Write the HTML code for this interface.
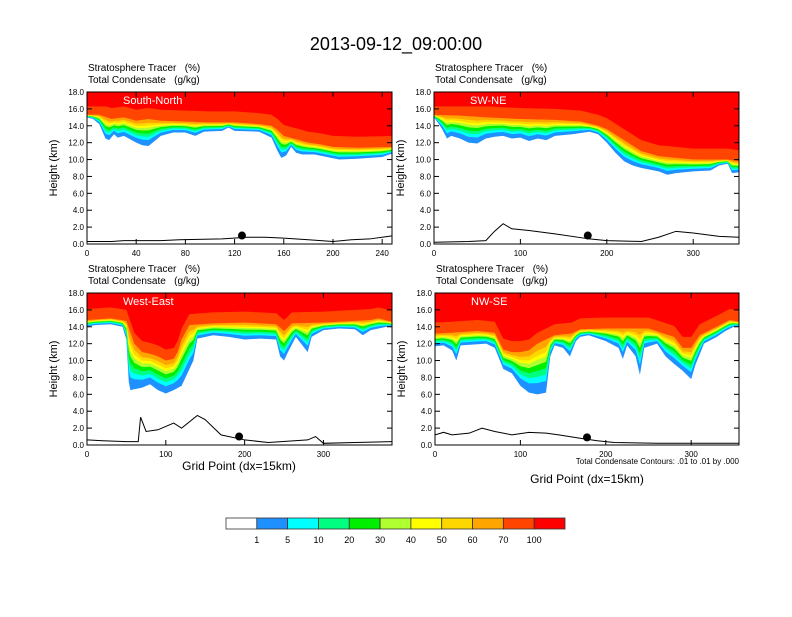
<!DOCTYPE html>
<html><head><meta charset="utf-8">
<style>
body{margin:0;background:#fff;width:792px;height:612px;overflow:hidden;font-family:"Liberation Sans",sans-serif}
svg text{font-family:"Liberation Sans",sans-serif;white-space:pre}
</style></head>
<body>
<svg id="fig" width="792" height="612" viewBox="0 0 792 612" xmlns="http://www.w3.org/2000/svg">
<rect width="792" height="612" fill="#fff"/>
<text x="396" y="50" font-size="18" text-anchor="middle">2013-09-12_09:00:00</text>
<g id="panels"></g>
<text x="239" y="470" font-size="12" text-anchor="middle">Grid Point (dx=15km)</text>
<text x="587" y="483" font-size="12" text-anchor="middle">Grid Point (dx=15km)</text>
<text x="739" y="464" font-size="8" text-anchor="end">Total Condensate Contours: .01 to .01 by .000</text>
<g id="cbar"></g>
</svg>
<script>
const colorbarLabels = ["1","5","10","20","30","40","50","60","70","100"];
const colors = ["#ffffff","#1e90ff","#00ffff","#00ff80","#00ee00","#b0ff30","#ffff00","#ffd700","#ffa500","#ff4500","#ff0000"];
const fracs = [0,0.22,0.34,0.46,0.58,0.68,0.76,0.86,1.0];
const yTicks = [0,2,4,6,8,10,12,14,16,18];

// Top-left: South-North
const p1X   = [0,5,10,15,18,22,25,30,35,40,45,50,55,60,70,80,88,95,110,115,120,140,150,155,158,162,166,170,175,185,195,205,220,240,250];
const p1Bot = [15.0,14.8,14.2,12.5,12.3,13.0,12.6,12.8,12.4,12.0,11.7,11.6,12.2,12.8,13.2,13.2,12.8,13.3,13.4,13.8,13.4,13.3,12.6,11.0,10.2,10.5,11.5,10.8,10.6,10.6,10.3,10.0,10.1,10.3,10.8];
const p1TopX = [0,10,20,30,40,50,60,80,100,120,140,150,155,160,170,180,190,200,220,250];
const p1Top  = [15.3,15.3,14.8,15.0,14.6,14.8,14.6,14.5,14.4,14.4,14.2,14.0,13.5,12.8,12.4,12.0,11.8,11.5,11.4,11.5];
const p1TerrX = [0,20,30,60,75,110,130,145,160,180,200,215,230,240,250];
const p1Terr  = [0.3,0.3,0.4,0.4,0.5,0.6,0.8,0.8,0.7,0.5,0.3,0.5,0.6,0.8,1.0];

// Top-right: SW-NE
const p2X   = [0,5,10,15,20,30,40,50,60,70,80,90,100,110,120,130,140,160,180,190,200,210,220,230,240,260,270,280,300,320,330,340,345,353];
const p2Bot = [15.0,14.3,13.5,12.5,12.8,12.5,12.0,11.9,12.5,12.7,12.8,12.5,12.6,12.2,12.5,12.3,12.8,13.0,13.3,13.0,12.0,10.8,9.8,9.3,9.0,8.6,8.2,8.4,8.6,8.7,9.3,9.5,8.4,8.5];
const p2TopX = [0,30,60,100,140,170,190,200,220,240,260,280,300,320,340,353];
const p2Top  = [15.3,15.2,15.0,14.8,14.7,14.5,14.0,13.6,12.3,11.0,10.4,10.2,10.0,10.0,10.0,9.8];
const p2TerrX = [0,40,60,70,80,90,110,140,180,200,240,260,280,300,330,353];
const p2Terr  = [0.2,0.3,0.4,1.5,2.4,1.8,1.6,1.2,0.6,0.4,0.3,0.8,1.5,1.3,0.9,0.8];

// Bottom-left: West-East
const p3X   = [0,10,30,45,50,53,55,60,70,80,90,100,110,120,130,135,140,160,180,200,220,240,245,250,255,265,280,285,300,320,340,350,360,370,380,387];
const p3Bot = [14.0,14.2,14.3,14.0,12.5,7.5,6.5,6.6,6.8,7.2,6.5,6.1,6.5,7.0,9.0,10.0,12.6,13.0,12.8,12.5,12.6,12.5,10.5,10.0,11.0,12.8,11.0,12.8,13.6,13.8,13.7,13.0,13.6,13.8,14.0,14.0];
const p3TopX = [0,30,50,60,70,80,90,100,110,115,120,130,160,200,240,250,260,300,360,370,387];
const p3Top  = [14.8,15.0,14.7,12.0,11.0,10.8,10.5,10.0,10.2,11.0,12.5,14.2,14.4,14.5,14.3,13.5,14.4,14.5,14.8,15.0,14.6];
const p3TerrX = [0,20,50,65,68,75,90,110,120,140,150,170,200,230,280,290,300,340,387];
const p3Terr  = [0.6,0.5,0.4,0.4,3.3,1.6,1.8,2.6,2.0,3.5,3.0,1.2,0.6,0.3,0.6,1.0,0.2,0.3,0.4];

// Bottom-right: NW-SE
const p4X   = [0,10,20,25,30,60,70,80,90,100,110,120,130,135,140,150,158,165,170,180,200,215,220,225,235,240,245,260,270,280,290,300,305,315,330,340,350,356];
const p4Bot = [11.7,11.8,11.2,10.0,11.8,12.0,11.5,9.0,8.5,7.0,6.2,6.0,6.2,10.5,11.8,11.5,10.5,12.3,12.8,13.0,12.3,11.5,10.2,11.8,10.5,8.3,11.5,12.0,10.5,9.6,8.8,7.8,9.5,12.0,12.8,13.5,14.0,14.0];
const p4TopX = [0,20,50,70,80,90,100,110,120,130,140,160,170,200,250,280,290,300,310,330,345,356];
const p4Top  = [13.2,13.3,13.5,13.3,11.3,11.0,11.0,11.2,12.0,12.5,13.0,13.2,13.7,13.8,13.8,12.8,11.5,11.5,13.0,14.0,14.8,14.6];
const p4TerrX = [0,10,20,40,55,70,90,110,130,145,170,190,210,260,300,356];
const p4Terr  = [1.2,1.5,1.2,1.4,2.0,1.6,1.2,1.5,1.4,1.2,0.8,0.5,0.3,0.2,0.2,0.2];

const panels = [
 {name:"south-north",label:"South-North",x0:87,y0:92,w:305,h:152,xmax:248,xt:[0,40,80,120,160,200,240],X:p1X,B:p1Bot,TX:p1TopX,T:p1Top,RX:p1TerrX,R:p1Terr,dot:[126,1.0]},
 {name:"sw-ne",label:"SW-NE",x0:434,y0:92,w:305,h:152,xmax:353,xt:[0,100,200,300],X:p2X,B:p2Bot,TX:p2TopX,T:p2Top,RX:p2TerrX,R:p2Terr,dot:[178,1.0]},
 {name:"west-east",label:"West-East",x0:87,y0:293,w:305,h:152,xmax:387,xt:[0,100,200,300],X:p3X,B:p3Bot,TX:p3TopX,T:p3Top,RX:p3TerrX,R:p3Terr,dot:[193,1.0]},
 {name:"nw-se",label:"NW-SE",x0:435,y0:293,w:304,h:152,xmax:356,xt:[0,100,200,300],X:p4X,B:p4Bot,TX:p4TopX,T:p4Top,RX:p4TerrX,R:p4Terr,dot:[178,0.9]}
];
const NS="http://www.w3.org/2000/svg";
function mk(t,a,parent){const e=document.createElementNS(NS,t);for(const k in a)e.setAttribute(k,a[k]);if(parent)parent.appendChild(e);return e;}
function interp(xs,ys,x){if(x<=xs[0])return ys[0];for(let i=1;i<xs.length;i++){if(x<=xs[i]){const t=(x-xs[i-1])/(xs[i]-xs[i-1]);return ys[i-1]+t*(ys[i]-ys[i-1]);}}return ys[ys.length-1];}
const root=document.getElementById('panels');
panels.forEach(p=>{
  const g=mk('g',{},root);
  
  
  const sx=v=>p.x0+v/p.xmax*p.w, sy=v=>p.y0+p.h-v/18*p.h;
  const cid='clip-'+p.name;
  const cp=mk('clipPath',{id:cid},g);mk('rect',{x:p.x0,y:p.y0,width:p.w,height:p.h},cp);
  const pg=mk('g',{'clip-path':'url(#'+cid+')'},g);
  const xsAll=[...new Set([...p.X,...p.TX])].sort((a,b)=>a-b);
  for(let k=0;k<=fracs.length;k++){
    let pts=[[sx(0),sy(18)]];
    xsAll.forEach(x=>{
      const b=interp(p.X,p.B,x), t=Math.max(interp(p.TX,p.T,x),b+0.3);
      const hb = k<fracs.length ? b+fracs[k]*(t-b) : Math.min(t+1.3,16.3);
      pts.push([sx(x),sy(hb)]);
    });
    pts.push([sx(p.xmax),sy(18)]);
    const poly=mk('polygon',{points:pts.map(q=>q.join(',')).join(' '),fill:colors[k+1]},pg);
    
    
  }
  const tl=mk('polyline',{points:p.RX.map((x,i)=>sx(x)+','+sy(p.R[i])).join(' '),fill:'none',stroke:'#000','stroke-width':1},pg);
  
  
  const d=mk('circle',{cx:sx(p.dot[0]),cy:sy(p.dot[1]),r:4,fill:'#000'},g);
  
  
  const fr=mk('rect',{x:p.x0,y:p.y0,width:p.w,height:p.h,fill:'none',stroke:'#000','stroke-width':1},g);
  
  
  yTicks.forEach(v=>{
    mk('line',{x1:p.x0,x2:p.x0+5,y1:sy(v),y2:sy(v),stroke:'#000'},g);
    mk('line',{x1:p.x0+p.w,x2:p.x0+p.w-5,y1:sy(v),y2:sy(v),stroke:'#000'},g);
    const t=mk('text',{x:p.x0-3,y:sy(v)+3,'font-size':8,'text-anchor':'end'},g);t.textContent=v.toFixed(1);
    
    
  });
  p.xt.forEach(v=>{
    mk('line',{x1:sx(v),x2:sx(v),y1:p.y0+p.h,y2:p.y0+p.h-5,stroke:'#000'},g);
    mk('line',{x1:sx(v),x2:sx(v),y1:p.y0,y2:p.y0+5,stroke:'#000'},g);
    const t=mk('text',{x:sx(v),y:p.y0+p.h+12,'font-size':8,'text-anchor':'middle'},g);t.textContent=v;
    
    
  });
  const lb=mk('text',{x:p.x0+36,y:p.y0+12,'font-size':11,fill:'#fff'},g);lb.textContent=p.label;
  
  
  const s1=mk('text',{x:p.x0+1,y:p.y0-21,'font-size':10},g);s1.textContent='Stratosphere Tracer   (%)';
  
  
  const s2=mk('text',{x:p.x0+1,y:p.y0-9,'font-size':10},g);s2.textContent='Total Condensate   (g/kg)';
  
  
  const yt=mk('text',{x:0,y:0,'font-size':11,'text-anchor':'middle',transform:'translate('+(p.x0-30)+','+(p.y0+p.h/2)+') rotate(-90)'},g);yt.textContent='Height (km)';
  
  
});
const cb=document.getElementById('cbar');
const cbx=226,cby=518,cbw=339/11,cbh=11;
colors.forEach((c,i)=>{
  const r=mk('rect',{x:cbx+i*cbw,y:cby,width:cbw,height:cbh,fill:c,stroke:'#333','stroke-width':0.8},cb);
  
  
});
colorbarLabels.forEach((l,i)=>{
  const t=mk('text',{x:cbx+(i+1)*cbw,y:cby+25,'font-size':9,'text-anchor':'middle'},cb);t.textContent=l;
  
  
});
</script>
</body></html>
